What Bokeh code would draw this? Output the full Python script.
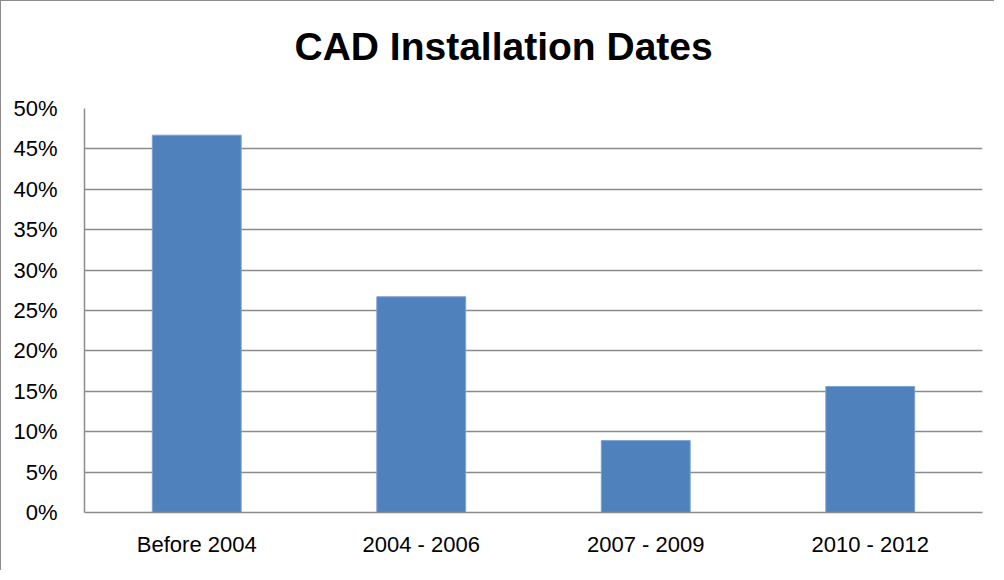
from bokeh.plotting import figure
from bokeh.models import FixedTicker, NumeralTickFormatter, ColumnDataSource, FactorRange, Title
from bokeh.embed import file_html
from bokeh.resources import INLINE

categories = ["Before 2004", "2004 - 2006", "2007 - 2009", "2010 - 2012"]
shares = [0.467, 0.267, 0.089, 0.156]
y_ticks = [0.0, 0.05, 0.10, 0.15, 0.20, 0.25, 0.30, 0.35, 0.40, 0.45, 0.50]

source = ColumnDataSource(data=dict(cat=categories, share=shares))

p = figure(
    x_range=FactorRange(*categories, range_padding=0),
    y_range=(0, 0.5),
    width=994, height=570,
    min_border_left=83, min_border_right=13,
    min_border_top=107, min_border_bottom=59,
    output_backend="svg", toolbar_location=None,
    title="CAD Installation Dates",
)
p.styles = {"border-top": "1px solid #8c8c8c", "border-left": "1px solid #8c8c8c"}
p.background_fill_color = "white"
p.border_fill_color = "white"
p.outline_line_color = None

# invisible spacer between title and plot area
p.add_layout(Title(text=" ", text_font_size="1px", standoff=33), "above")

p.vbar(x="cat", top="share", width=0.396, source=source,
       fill_color="#4F81BD", line_color="#7FA3D1", line_width=1)

p.title.text_font = "Liberation Sans"
p.title.text_font_size = "39px"
p.title.text_font_style = "bold"
p.title.text_color = "black"
p.title.align = "left"
p.title.offset = 210
p.title.standoff = 10

p.yaxis.ticker = FixedTicker(ticks=y_ticks)
p.yaxis.formatter = NumeralTickFormatter(format="0%")
p.yaxis.major_tick_line_color = None
p.yaxis.minor_tick_line_color = None
p.yaxis.axis_line_color = "#8c8c8c"
p.yaxis.axis_line_width = 1.5
p.yaxis.major_label_text_font = "Liberation Sans"
p.yaxis.major_label_text_font_size = "22px"
p.yaxis.major_label_text_color = "black"
p.yaxis.major_label_standoff = 21

p.xaxis.major_tick_line_color = None
p.xaxis.minor_tick_line_color = None
p.xaxis.axis_line_color = "#8c8c8c"
p.xaxis.axis_line_width = 1.5
p.xaxis.major_label_text_font = "Liberation Sans"
p.xaxis.major_label_text_font_size = "22px"
p.xaxis.major_label_text_color = "black"
p.xaxis.major_label_standoff = 13

p.xgrid.grid_line_color = None
p.ygrid.grid_line_color = "#8c8c8c"
p.ygrid.grid_line_width = 1.5
p.ygrid.ticker = FixedTicker(ticks=y_ticks)

open("out.html", "w").write(file_html(p, INLINE))
